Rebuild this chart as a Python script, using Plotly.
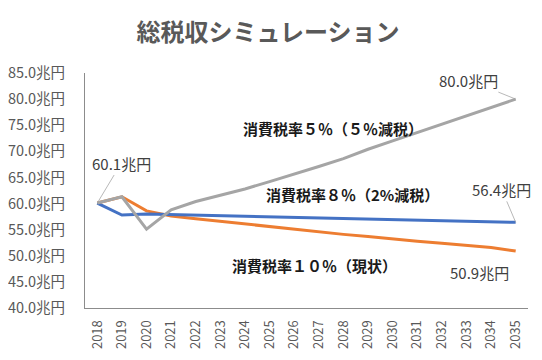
import plotly.graph_objects as go

years = list(range(2018, 2036))
tax10 = [60.1, 61.3, 58.6, 57.6, 57.1, 56.6, 56.1, 55.6, 55.0, 54.6, 54.1, 53.7, 53.2, 52.8, 52.4, 52.0, 51.6, 50.9]
tax8 = [60.1, 57.8, 58.0, 57.9, 57.8, 57.7, 57.6, 57.5, 57.4, 57.3, 57.2, 57.1, 56.9, 56.9, 56.8, 56.7, 56.5, 56.4]
tax5 = [60.1, 61.3, 55.1, 58.8, 60.4, 61.6, 62.8, 64.2, 65.6, 67.1, 68.6, 70.4, 72.0, 73.6, 75.1, 76.7, 78.3, 80.0]
ytick_vals = [40, 45, 50, 55, 60, 65, 70, 75, 80, 85]
ytick_text = [f"{v:.1f}兆円" for v in ytick_vals]

FONT = "Noto Sans CJK JP"
GRAY_TXT = "#595959"

fig = go.Figure()
fig.add_trace(go.Scatter(x=years, y=tax10, mode="lines", line=dict(color="#ED7D31", width=3), name="消費税率１０％（現状）"))
fig.add_trace(go.Scatter(x=years, y=tax8, mode="lines", line=dict(color="#4472C4", width=3), name="消費税率８％（2%減税）"))
fig.add_trace(go.Scatter(x=years, y=tax5, mode="lines", line=dict(color="#A5A5A5", width=3), name="消費税率５％（５％減税）"))

ann = []
val_font = dict(family=FONT, size=15, color="#404040")
arrow = dict(showarrow=True, arrowhead=0, arrowwidth=0.8, arrowcolor="#A6A6A6")
ann.append(dict(x=years[0], y=tax5[0], text=f"{tax5[0]:.1f}兆円", ax=24, ay=-40, font=val_font, **arrow))
ann.append(dict(x=years[-1], y=tax5[-1], text=f"{tax5[-1]:.1f}兆円", ax=-47, ay=-19, font=val_font, **arrow))
ann.append(dict(x=years[-1], y=tax8[-1], text=f"{tax8[-1]:.1f}兆円", ax=-14, ay=-33, font=val_font, **arrow))
ann.append(dict(x=years[-1], y=tax10[-1], text=f"{tax10[-1]:.1f}兆円", ax=-36, ay=21, font=val_font, showarrow=True, arrowcolor="rgba(0,0,0,0)"))

lab_font = dict(family=FONT, size=15, color="#1a1a1a")
ann.append(dict(xref="paper", yref="paper", x=0.56, y=0.818, text="<b>消費税率５％（５％減税）</b>", showarrow=False, font=lab_font))
ann.append(dict(xref="paper", yref="paper", x=0.603, y=0.481, text="<b>消費税率８％（2%減税）</b>", showarrow=False, font=lab_font))
ann.append(dict(xref="paper", yref="paper", x=0.517, y=0.129, text="<b>消費税率１０％（現状）</b>", showarrow=False, font=lab_font))

fig.update_layout(
    template="none",
    width=534, height=352,
    margin=dict(l=77, r=14, t=65, b=52),
    paper_bgcolor="white", plot_bgcolor="white",
    showlegend=False,
    title=dict(text="<b>総税収シミュレーション</b>", x=0.487, xanchor="center", y=0.93, yanchor="middle",
               font=dict(family=FONT, size=24, color=GRAY_TXT)),
    annotations=ann,
    font=dict(family=FONT, color=GRAY_TXT),
)
fig.update_xaxes(automargin=False, range=[years[0] - 0.5, years[-1] + 0.5], tickmode="array", tickvals=years,
                 ticktext=[str(y) for y in years], showline=True, linecolor="#8c8c8c", linewidth=1,
                 showgrid=False, zeroline=False, tickangle=-90, ticklabelstandoff=6,
                 tickfont=dict(family=FONT, size=13, color=GRAY_TXT), ticks="")
fig.update_yaxes(automargin=False, range=[40, 85], tickvals=ytick_vals, ticktext=ytick_text, showline=True,
                 linecolor="#8c8c8c", linewidth=1, showgrid=False, zeroline=False, ticks="",
                 ticklabelstandoff=16, tickfont=dict(family=FONT, size=14.5, color=GRAY_TXT))

fig.write_html("out.html")
